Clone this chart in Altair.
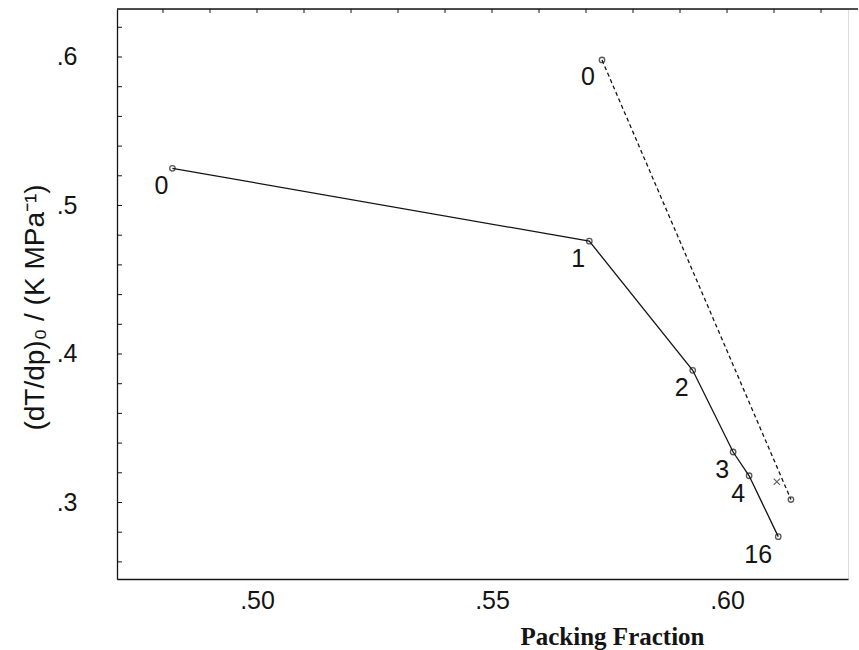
import altair as alt
import pandas as pd

# Solid series: packing fraction vs (dT/dp)_0, labelled by index
solid_x = [0.482, 0.5707, 0.5927, 0.6013, 0.6047, 0.6109]
solid_y = [0.525, 0.476, 0.389, 0.334, 0.318, 0.277]
solid_lab = ["0", "1", "2", "3", "4", "16"]

# Dashed series
dash_x = [0.5734, 0.6136]
dash_y = [0.598, 0.302]
dash_lab = ["0", ""]

# Single cross marker beside the dashed line
cross_x = [0.6106]
cross_y = [0.314]

x_labels = [0.50, 0.55, 0.60]
y_labels = [0.3, 0.4, 0.5, 0.6]
y_minor = [0.26, 0.28, 0.30, 0.32, 0.34, 0.36, 0.38, 0.40, 0.42,
           0.44, 0.46, 0.48, 0.50, 0.52, 0.54, 0.56, 0.58, 0.60, 0.62]
x_minor = [0.48, 0.49, 0.50, 0.51, 0.52, 0.53, 0.54, 0.55, 0.56, 0.57, 0.58,
           0.59, 0.60, 0.61, 0.62]

W, H = 731, 570
XDOM = [0.47021, 0.62574]
YDOM = [0.24848, 0.63232]
SANS = "Liberation Sans"
NARROW = "'Liberation Sans Narrow', 'Liberation Sans', sans-serif"
INK = "#141414"

solid = pd.DataFrame({"x": solid_x, "y": solid_y, "lab": solid_lab})
dashed = pd.DataFrame({"x": dash_x, "y": dash_y, "lab": dash_lab})
cross = pd.DataFrame({"x": cross_x, "y": cross_y})

xs = alt.Scale(domain=XDOM, nice=False, zero=False)
ys = alt.Scale(domain=YDOM, nice=False, zero=False)

x_axis = alt.Axis(
    values=x_labels, labelExpr="replace(format(datum.value, '.2f'), '0.', '.')",
    grid=False, ticks=False, domain=True, domainColor=INK, domainWidth=1.3,
    labelFont=NARROW, labelFontSize=25, labelColor=INK, labelPadding=9,
    title="Packing Fraction", titleFont="Liberation Serif", titleFontSize=25,
    titleFontWeight="bold", titleColor=INK, titleX=495, titleY=57,
    titleAlign="center", titleBaseline="middle",
)
y_axis = alt.Axis(
    values=y_labels, labelExpr="replace(format(datum.value, '.1f'), '0.', '.')",
    grid=False, ticks=False, domain=True, domainColor=INK, domainWidth=1.3,
    labelFont=NARROW, labelFontSize=25, labelColor=INK, labelPadding=40,
    labelBaseline="middle",
    title="(dT/dp)₀ / (K MPa⁻¹)", titleFont=SANS, titleFontSize=28,
    titleFontWeight="normal", titleColor=INK, titleX=-82, titleY=298,
    titleAngle=270, titleAlign="center", titleBaseline="middle",
)

enc = dict(x=alt.X("x:Q", scale=xs), y=alt.Y("y:Q", scale=ys))

line_solid = alt.Chart(solid).mark_line(color=INK, strokeWidth=1.3).encode(
    x=alt.X("x:Q", scale=xs, axis=x_axis),
    y=alt.Y("y:Q", scale=ys, axis=y_axis),
)
pts_solid = alt.Chart(solid).mark_point(shape="circle", size=30, color=INK,
                                        strokeWidth=1.3, filled=False).encode(**enc)
lab_main = alt.Chart(solid).transform_filter("datum.lab != '16'").mark_text(
    font=NARROW, fontSize=25, color=INK, dx=-11, dy=18
).encode(text="lab:N", **enc)
lab_16 = alt.Chart(solid).transform_filter("datum.lab == '16'").mark_text(
    font=NARROW, fontSize=25, color=INK, dx=-20, dy=18
).encode(text="lab:N", **enc)

line_dash = alt.Chart(dashed).mark_line(color=INK, strokeWidth=1.3,
                                        strokeDash=[4, 3]).encode(**enc)
pts_dash = alt.Chart(dashed).mark_point(shape="circle", size=30, color=INK,
                                        strokeWidth=1.3, filled=False).encode(**enc)
lab_dash = alt.Chart(dashed).mark_text(font=NARROW, fontSize=25, color=INK,
                                       dx=-14, dy=17).encode(text="lab:N", **enc)

cross_mark = alt.Chart(cross).mark_point(
    shape="M-1,-1L1,1M-1,1L1,-1", size=40, color=INK, strokeWidth=1.1,
    filled=False).encode(**enc)

# inward tick marks on the left and top edges
yticks = alt.Chart(pd.DataFrame({"y": y_minor})).mark_rule(
    color=INK, strokeWidth=1).encode(
    y=alt.Y("y:Q", scale=ys), x=alt.value(0), x2=alt.value(5))
xticks = alt.Chart(pd.DataFrame({"x": x_minor})).mark_rule(
    color=INK, strokeWidth=1).encode(
    x=alt.X("x:Q", scale=xs), y=alt.value(0), y2=alt.value(4))
top_line = alt.Chart(pd.DataFrame({"a": [0]})).mark_rule(
    color=INK, strokeWidth=1.3).encode(
    x=alt.value(0), x2=alt.value(W + 10), y=alt.value(0))

chart = alt.layer(
    line_solid, line_dash, pts_solid, pts_dash, cross_mark,
    lab_main, lab_16, lab_dash, yticks, xticks, top_line,
).properties(
    width=W, height=H, autosize="none",
    padding={"left": 117, "top": 9, "right": 11, "bottom": 71},
).configure_view(stroke=None).configure(background="white")

chart.save("out.html", embed_options={"renderer": "svg", "actions": False})
